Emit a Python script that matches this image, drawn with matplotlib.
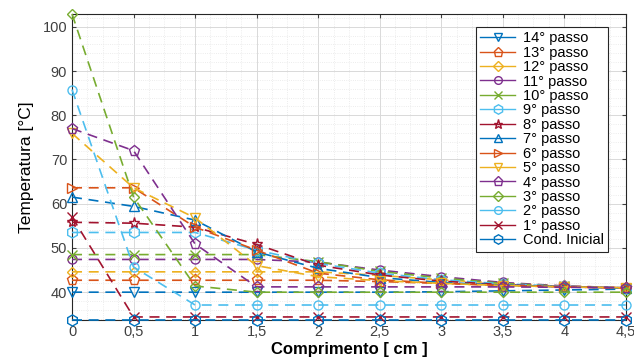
import matplotlib
matplotlib.use("Agg")
import matplotlib.pyplot as plt
from matplotlib.ticker import FuncFormatter, MultipleLocator
from matplotlib.lines import Line2D

# posicoes ao longo da barra [cm]
comprimento = [0, 0.5, 1, 1.5, 2, 2.5, 3, 3.5, 4, 4.5]

# temperaturas [C]
passo_14 = [40.0, 40.0, 40.0, 40.0, 40.0, 40.0, 40.1, 40.3, 40.5, 40.7]
passo_13 = [42.7, 42.7, 42.7, 42.7, 42.7, 42.4, 42.0, 41.6, 41.3, 41.0]
passo_12 = [44.6, 44.6, 44.6, 44.6, 44.6, 43.8, 42.8, 42.0, 41.4, 41.0]
passo_11 = [47.4, 47.4, 47.4, 47.4, 46.8, 45.0, 43.5, 42.2, 41.4, 41.0]
passo_10 = [48.5, 48.5, 48.5, 48.5, 46.9, 44.7, 43.2, 42.0, 41.3, 40.9]
passo_9 = [53.5, 53.5, 53.5, 49.5, 46.5, 44.3, 42.8, 41.9, 41.3, 41.0]
passo_8 = [55.8, 55.6, 54.7, 50.8, 46.1, 43.9, 42.5, 41.7, 41.2, 41.0]
passo_7 = [61.5, 59.4, 56.3, 49.1, 45.4, 43.3, 42.2, 41.6, 41.2, 40.9]
passo_6 = [63.6, 63.6, 54.7, 49.5, 44.3, 42.8, 42.0, 41.5, 41.2, 40.9]
passo_5 = [75.9, 63.6, 56.8, 46.0, 43.5, 42.6, 42.0, 41.5, 41.2, 41.0]
passo_4 = [77.0, 72.0, 50.9, 41.2, 41.2, 41.2, 41.2, 41.2, 41.1, 41.0]
passo_3 = [102.9, 61.5, 41.4, 40.0, 40.0, 40.0, 40.0, 40.0, 40.0, 40.0]
passo_2 = [85.8, 45.7, 37.1, 37.1, 37.1, 37.1, 37.1, 37.1, 37.1, 37.1]
passo_1 = [57.0, 34.4, 34.4, 34.4, 34.4, 34.4, 34.4, 34.4, 34.4, 34.4]
cond_inicial = [33.7] * 10

series = [passo_14, passo_13, passo_12, passo_11, passo_10, passo_9, passo_8,
          passo_7, passo_6, passo_5, passo_4, passo_3, passo_2, passo_1,
          cond_inicial]
labels = ["14° passo", "13° passo", "12° passo", "11° passo", "10° passo",
          "9° passo", "8° passo", "7° passo", "6° passo", "5° passo",
          "4° passo", "3° passo", "2° passo", "1° passo", "Cond. Inicial"]
markers = ["v", "p", "D", "o", "x", "h", "*", "^", ">", "v", "p", "D", "o",
           "x", "h"]

# cores padrao do MATLAB
cores = ["#0072BD", "#D95319", "#EDB120", "#7E2F8E", "#77AC30", "#4DBEEE",
         "#A2142F"]


def virgula(x, pos):
    """Formata os ticks com virgula decimal."""
    if float(x).is_integer():
        return f"{int(x)}"
    return f"{x:g}".replace(".", ",")


def main():
    plt.rcParams["font.family"] = ["Liberation Sans", "DejaVu Sans"]
    fig = plt.figure(figsize=(6.34, 3.58), dpi=100)
    ax = fig.add_axes([0.1136, 0.106, 0.8734, 0.855])

    handles = []
    for i, (vals, lab, mk) in enumerate(zip(series, labels, markers)):
        cor = cores[i % len(cores)]
        ms = 8 if mk in ("p", "h", "*") else 6.5
        if mk == "D":
            ms = 5.5
        ax.plot(comprimento, vals, linestyle="--", color=cor, marker=mk,
                markersize=ms, markerfacecolor="none", markeredgewidth=1.0,
                linewidth=1.2, dashes=(6, 4), clip_on=False, zorder=3)
        handles.append(Line2D([], [], color=cor, marker=mk,
                              markersize=ms * 0.85,
                              markerfacecolor="none", linewidth=1.0))

    ax.set_xlim(0, 4.5)
    ax.set_ylim(33.7, 102.9)
    ax.xaxis.set_major_locator(MultipleLocator(0.5))
    ax.xaxis.set_minor_locator(MultipleLocator(0.125))
    ax.yaxis.set_major_locator(MultipleLocator(10))
    ax.yaxis.set_minor_locator(MultipleLocator(2))
    ax.xaxis.set_major_formatter(FuncFormatter(virgula))

    ax.grid(which="major", color="#d9d9d9", linewidth=0.7, linestyle="-")
    ax.grid(which="minor", color="#e6e6e6", linewidth=0.6, linestyle=":")
    ax.set_axisbelow(True)

    ax.tick_params(which="both", direction="in", top=True, right=True,
                   labelsize=10.5, colors="#404040", length=3)
    ax.tick_params(which="minor", length=0)
    for s in ax.spines.values():
        s.set_color("#262626")
        s.set_linewidth(0.8)

    ax.set_xlabel("Comprimento [ cm ]", fontsize=12, fontweight="bold",
                  labelpad=2)
    ax.set_ylabel("Temperatura [°C]", fontsize=12.5, labelpad=6)

    leg = ax.legend(handles, labels, loc="upper right",
                    bbox_to_anchor=(0.968, 0.958), borderaxespad=0,
                    fontsize=10.5, labelspacing=0.03, borderpad=0.3,
                    handlelength=2.4, handletextpad=0.5, fancybox=False,
                    framealpha=1)
    leg.get_frame().set_edgecolor("#262626")
    leg.get_frame().set_linewidth(0.8)

    fig.savefig("out.png", dpi=100)


if __name__ == "__main__":
    main()
